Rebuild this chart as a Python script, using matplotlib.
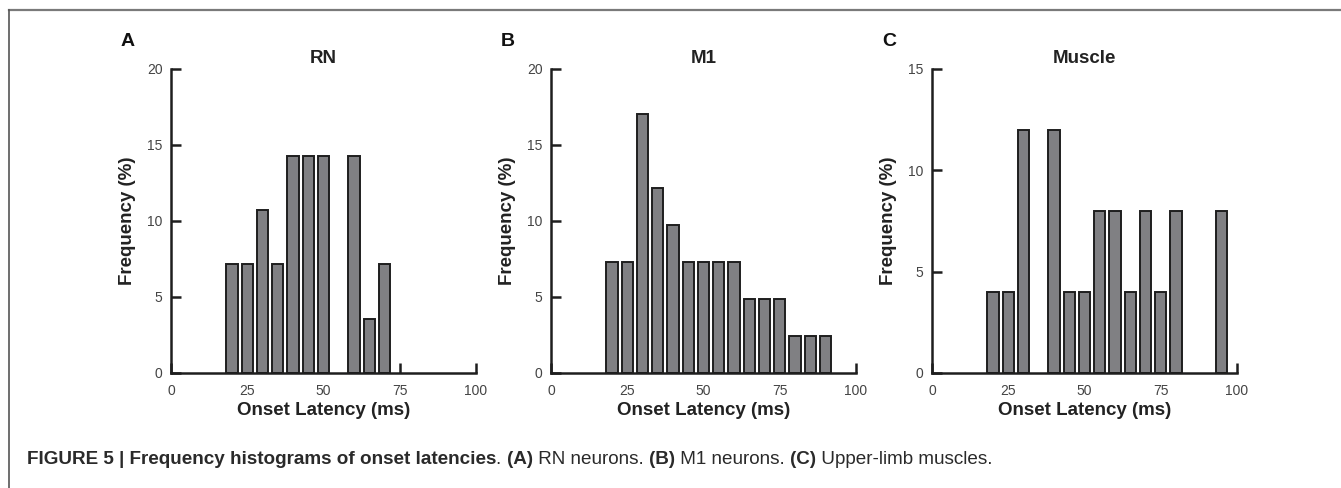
import numpy as np
import matplotlib
matplotlib.use("Agg")
import matplotlib.pyplot as plt
from matplotlib.lines import Line2D

# Histogram data: bin centres (ms) and frequency (%)
bins_rn = [20, 25, 30, 35, 40, 45, 50, 55, 60, 65, 70]
freq_rn = [7.14, 7.14, 10.7, 7.14, 14.29, 14.29, 14.29, 0, 14.29, 3.57, 7.14]

bins_m1 = [20, 25, 30, 35, 40, 45, 50, 55, 60, 65, 70, 75, 80, 85, 90]
freq_m1 = [7.3, 7.3, 17.07, 12.2, 9.76, 7.3, 7.3, 7.3, 7.3, 4.88, 4.88, 4.88, 2.44, 2.44, 2.44]

bins_mu = [20, 25, 30, 35, 40, 45, 50, 55, 60, 65, 70, 75, 80, 85, 90, 95]
freq_mu = [4, 4, 12, 0, 12, 4, 4, 8, 8, 4, 8, 4, 8, 0, 0, 8]

titles = ["RN", "M1", "Muscle"]
letters = ["A", "B", "C"]
ymaxes = [20, 20, 15]
xticks = [0, 25, 50, 75, 100]

caption = [
    ("FIGURE 5 | Frequency histograms of onset latencies", "bold"),
    (". ", "normal"),
    ("(A)", "bold"),
    (" RN neurons. ", "normal"),
    ("(B)", "bold"),
    (" M1 neurons. ", "normal"),
    ("(C)", "bold"),
    (" Upper-limb muscles.", "normal"),
]

plt.rcParams['font.family'] = ['Liberation Sans', 'DejaVu Sans']

W, H = 1341, 488
fig = plt.figure(figsize=(W / 100, H / 100), dpi=100)

# outer frame (top and left lines)
fig.add_artist(Line2D([9 / W, 1], [1 - 10 / H, 1 - 10 / H], color="#7a7a7a", lw=1.6))
fig.add_artist(Line2D([9 / W, 9 / W], [0, 1 - 10 / H], color="#555555", lw=1.2))

lefts = [171, 551, 932]
data = [(bins_rn, freq_rn), (bins_m1, freq_m1), (bins_mu, freq_mu)]
for i, (bx, fy) in enumerate(data):
    bx = np.array(bx)
    fy = np.array(fy)
    keep = fy > 0  # empty bins draw nothing
    ax = fig.add_axes([lefts[i] / W, (H - 373) / H, 305 / W, 304 / H])
    ax.bar(bx[keep], fy[keep], width=3.7, color="#808083", edgecolor="#1e1e1e",
           linewidth=1.4, zorder=2)
    ax.set_xlim(0, 100)
    ax.set_ylim(0, ymaxes[i])
    ax.set_xticks(xticks)
    ax.set_yticks(np.arange(0, ymaxes[i] + 1, 5))
    for s in ["top", "right"]:
        ax.spines[s].set_visible(False)
    for s in ["left", "bottom"]:
        ax.spines[s].set_linewidth(1.8)
        ax.spines[s].set_color("#1e1e1e")
        ax.spines[s].set_zorder(3)
    ax.tick_params(direction="in", length=7, width=1.8, color="#1e1e1e",
                   labelsize=10, labelcolor="#444444", pad=6)
    ax.tick_params(axis="x", pad=8)
    ax.set_xlabel("Onset Latency (ms)", fontsize=13.5, fontweight="bold", color="#222222", labelpad=3)
    ax.set_ylabel("Frequency (%)", fontsize=13.5, fontweight="bold", color="#222222", labelpad=8)
    ax.set_title(titles[i], fontsize=13.5, fontweight="bold", color="#222222", pad=4)
    fig.text((lefts[i] - 43) / W, 1 - 41 / H, letters[i], fontsize=14, fontweight="bold",
             color="#111111", ha="center", va="center")

# caption with mixed weights, placed piece by piece
fig.canvas.draw()
rend = fig.canvas.get_renderer()
x = 27
for txt, wt in caption:
    t = fig.text(x / W, 1 - 459 / H, txt, fontsize=13.6, fontweight=wt,
                 color="#2a2a2a", ha="left", va="center")
    bb = t.get_window_extent(renderer=rend)
    x += bb.width

fig.savefig("out.png", dpi=100)
